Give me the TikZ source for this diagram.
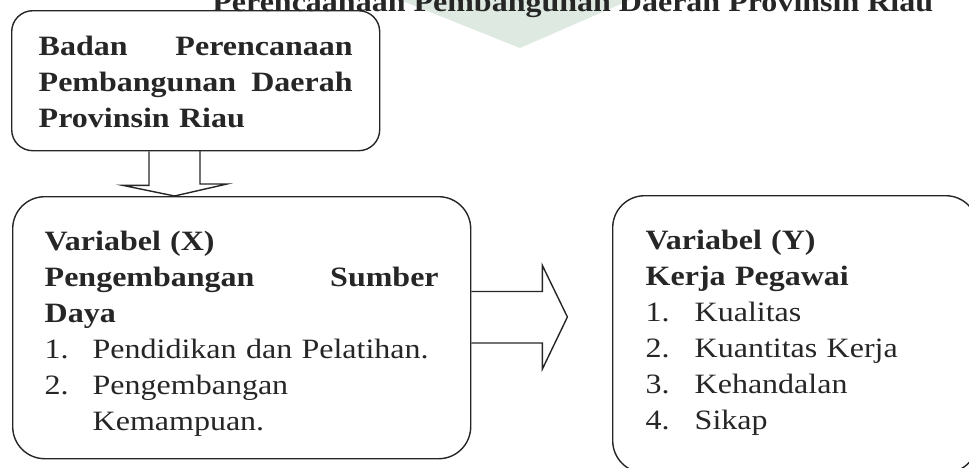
\documentclass[tikz,border=0pt]{standalone}
\usepackage{fontspec}
\setmainfont[FakeStretch=1.143]{Liberation Serif}
\usetikzlibrary{calc}
\definecolor{markgreen}{RGB}{221,233,225}
\begin{document}
\begin{tikzpicture}[%
    x=0.5pt, y=-0.5pt, line width=0.7pt,
    every node/.style={font=\fontsize{14pt}{18pt}\selectfont, text=black!85},
    box/.style={draw=black!85, align=left, inner ysep=0pt, text height=27pt},
    blockarrow/.style={draw=black!85}]
  \path[use as bounding box, clip] (0,0) rectangle (969,467);
  \fill[markgreen] (400,0) -- (520,48) -- (630,0) -- cycle;
  \node[anchor=base west, font=\fontsize{14pt}{18pt}\selectfont\bfseries] (title) at (205,11)
    {Perencaanaan Pembangunan Daerah Provinsin Riau};
  \node[box, anchor=north west, rounded corners=10.5pt, text width=157pt,
    inner xsep=13.5pt, text height=22.5pt, text depth=47.5pt] (bappeda) at (11,10)
    {\bfseries Badan\hfill Perencanaan\\ Pembangunan\hfill Daerah\\ Provinsin Riau};
  \node[box, anchor=north west, rounded corners=16pt, text width=197pt,
    inner xsep=16pt, text depth=104pt] (varx) at (12,196)
    {\bfseries Variabel (X)\\ Pengembangan\hfill Sumber\\ Daya\\
     \mdseries\makebox[24pt][l]{1.}Pendidikan dan Pelatihan.\\
     \makebox[24pt][l]{2.}Pengembangan\\ \hspace*{24pt}Kemampuan.};
  \node[box, anchor=north west, rounded corners=16pt, text width=149.5pt,
    inner xsep=16.5pt, text depth=111.5pt] (vary) at (612,195)
    {\bfseries Variabel (Y)\\ Kerja Pegawai\\
     \mdseries\makebox[24.5pt][l]{1.}Kualitas\\
     \makebox[24.5pt][l]{2.}Kuantitas Kerja\\
     \makebox[24.5pt][l]{3.}Kehandalan\\
     \makebox[24.5pt][l]{4.}Sikap};
  \coordinate (downtip) at ($(varx.north west)+(162.5,0)$);
  \draw[blockarrow] (downtip |- bappeda.south) ++(-25.5,0) -- ++(0,34) -- ++(-26,0)
    -- (downtip) -- ++(52.5,-12) -- ++(-27,0) -- ++(0,-34);
  \coordinate (righttip) at ($(varx.north east)+(96,121)$);
  \draw[blockarrow] (righttip -| varx.east) ++(0,-25.5) -- ++(71,0) -- ++(0,-26)
    -- (righttip) -- ++(-25,52) -- ++(0,-26) -- ++(-71,0);
\end{tikzpicture}
\end{document}
